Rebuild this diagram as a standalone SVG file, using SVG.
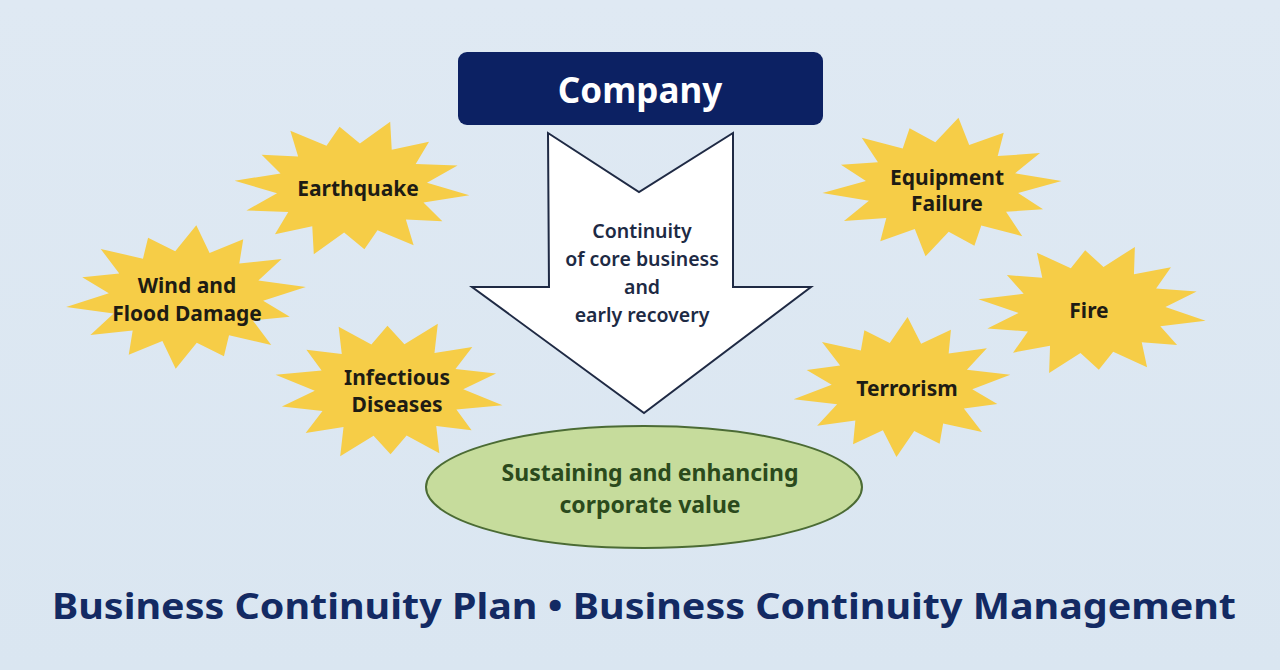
<svg xmlns="http://www.w3.org/2000/svg" width="1280" height="670" viewBox="0 0 1280 670">
<defs>
<linearGradient id="bg" x1="0" y1="0" x2="0" y2="1">
<stop offset="0" stop-color="#dfe9f3"/>
<stop offset="1" stop-color="#dae6f1"/>
</linearGradient>
<path id="star" d="M1,0 L0.624,0.142 L0.811,0.391 L0.501,0.399 L0.605,0.758 L0.278,0.577 L0.196,0.858 L0,0.64 L-0.223,0.975 L-0.278,0.577 L-0.580,0.727 L-0.501,0.399 L-0.856,0.412 L-0.624,0.142 L-1,0 L-0.624,-0.142 L-0.811,-0.391 L-0.501,-0.399 L-0.605,-0.758 L-0.278,-0.577 L-0.196,-0.858 L0,-0.64 L0.223,-0.975 L0.278,-0.577 L0.580,-0.727 L0.501,-0.399 L0.856,-0.412 L0.624,-0.142 Z"/>
</defs>
<style>
.star{fill:#f6cd47}
.st{font-family:"Noto Sans","Liberation Sans",sans-serif;font-weight:700;font-size:21px;fill:#1e1c14;text-anchor:middle}
.ar{font-family:"Noto Sans","Liberation Sans",sans-serif;font-weight:600;font-size:19.5px;fill:#1d2a44;text-anchor:middle}
.el{font-family:"Noto Sans","Liberation Sans",sans-serif;font-weight:700;font-size:23px;fill:#2b4a1c;text-anchor:middle}
</style>
<rect width="1280" height="670" fill="url(#bg)"/>

<g id="company">
<rect x="458" y="52" width="365" height="73" rx="9" fill="#0c2163"/>
<text x="640" y="103" font-family="Noto Sans, Liberation Sans, sans-serif" font-weight="700" font-size="35" fill="#ffffff" text-anchor="middle">Company</text>
</g>

<g id="continuity-arrow">
<path d="M548,133 L639,192 L733,133 L733,287 L811,287 L644,413 L472,287 L549,287 Z" fill="#ffffff" stroke="#1f2a44" stroke-width="2" stroke-linejoin="miter"/>
<text class="ar" x="642" y="238">Continuity</text>
<text class="ar" x="642" y="266">of core business</text>
<text class="ar" x="642" y="294">and</text>
<text class="ar" x="642" y="322">early recovery</text>
</g>

<g id="corporate-value">
<ellipse cx="644" cy="487" rx="218" ry="61" fill="#c6dc9c" stroke="#4b6b34" stroke-width="2"/>
<text class="el" x="650" y="481">Sustaining and enhancing</text>
<text class="el" x="650" y="513">corporate value</text>
</g>

<g id="earthquake">
<use href="#star" class="star" transform="translate(352,188) scale(118,70) rotate(6)"/>
<text class="st" x="358" y="196">Earthquake</text>
</g>

<g id="wind-flood">
<use href="#star" class="star" transform="translate(186,297) scale(121,72) rotate(-8)"/>
<text class="st" x="187" y="293">Wind and</text>
<text class="st" x="187" y="321">Flood Damage</text>
</g>

<g id="infectious">
<use href="#star" class="star" transform="translate(389,390) scale(116,73) rotate(12)"/>
<text class="st" x="397" y="385">Infectious</text>
<text class="st" x="397" y="412">Diseases</text>
</g>

<g id="equipment">
<use href="#star" class="star" transform="translate(942,187) scale(120,70) rotate(-5)"/>
<text class="st" x="947" y="185">Equipment</text>
<text class="st" x="947" y="211">Failure</text>
</g>

<g id="fire">
<use href="#star" class="star" transform="translate(1092,310) scale(115,68) rotate(9)"/>
<text class="st" x="1089" y="318">Fire</text>
</g>

<g id="terrorism">
<use href="#star" class="star" transform="translate(902,387) scale(110,70) rotate(-10)"/>
<text class="st" x="907" y="396">Terrorism</text>
</g>

<g id="connectors"></g>

<g id="title">
<text x="644" y="619" font-family="Noto Sans, Liberation Sans, sans-serif" font-weight="700" font-size="35" fill="#132a63" text-anchor="middle" textLength="1184" lengthAdjust="spacingAndGlyphs">Business Continuity Plan • Business Continuity Management</text>
</g>
</svg>
